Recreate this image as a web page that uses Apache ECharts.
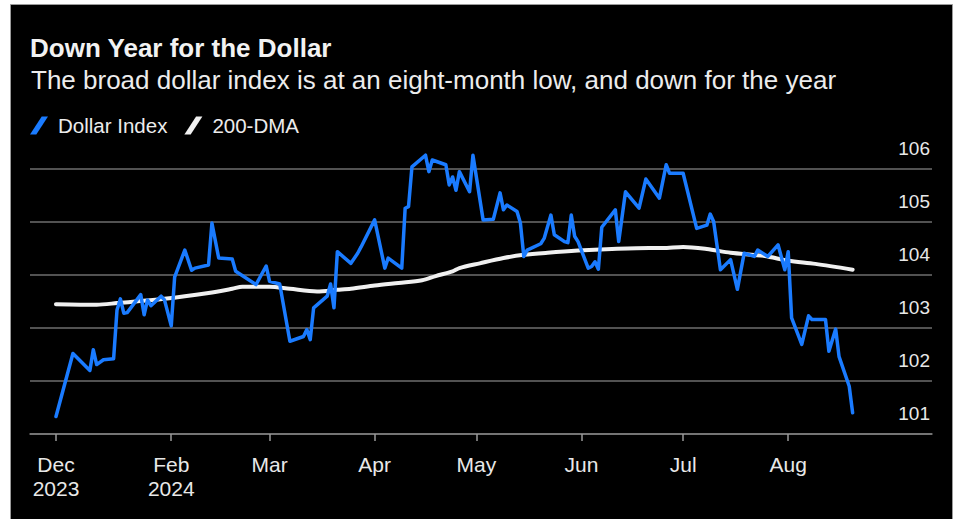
<!DOCTYPE html>
<html>
<head>
<meta charset="utf-8">
<title>Down Year for the Dollar</title>
<script src="https://cdn.jsdelivr.net/npm/echarts@6/dist/echarts.min.js"></script>
<style>
  html, body { margin: 0; padding: 0; background: #ffffff; }
  #chart { width: 959px; height: 519px; }
</style>
</head>
<body>
<div id="chart"></div>
<script>
// Dollar index, daily closes (turning points)
const indexDates = [
  '2023-12-29','2024-01-03','2024-01-08','2024-01-09','2024-01-10','2024-01-12','2024-01-15','2024-01-16',
  '2024-01-17','2024-01-18','2024-01-19','2024-01-23','2024-01-24','2024-01-25','2024-01-26','2024-01-29',
  '2024-01-30','2024-02-01','2024-02-02','2024-02-05','2024-02-07','2024-02-08','2024-02-12','2024-02-13',
  '2024-02-15','2024-02-19','2024-02-20','2024-02-26','2024-02-29','2024-03-01','2024-03-04','2024-03-07',
  '2024-03-11','2024-03-12','2024-03-13','2024-03-14','2024-03-18','2024-03-19','2024-03-20','2024-03-21',
  '2024-03-25','2024-03-27','2024-03-28','2024-04-01','2024-04-04','2024-04-05','2024-04-09','2024-04-10',
  '2024-04-11','2024-04-12','2024-04-16','2024-04-17','2024-04-18','2024-04-22','2024-04-23','2024-04-24',
  '2024-04-25','2024-04-26','2024-04-29','2024-04-30','2024-05-03','2024-05-06','2024-05-08','2024-05-09',
  '2024-05-10','2024-05-13','2024-05-14','2024-05-15','2024-05-16','2024-05-20','2024-05-21','2024-05-23',
  '2024-05-24','2024-05-27','2024-05-28','2024-05-29','2024-05-30','2024-05-31','2024-06-03','2024-06-04',
  '2024-06-05','2024-06-06','2024-06-07','2024-06-11','2024-06-12','2024-06-14','2024-06-18','2024-06-20',
  '2024-06-24','2024-06-26','2024-06-27','2024-07-01','2024-07-05','2024-07-08','2024-07-09','2024-07-10',
  '2024-07-12','2024-07-15','2024-07-17','2024-07-19','2024-07-22','2024-07-23','2024-07-26','2024-07-29',
  '2024-07-31','2024-08-01','2024-08-02','2024-08-05','2024-08-07','2024-08-08','2024-08-12','2024-08-13',
  '2024-08-15','2024-08-16','2024-08-19','2024-08-20'
];
const indexValues = [
  101.33,102.52,102.20,102.59,102.31,102.40,102.42,103.34,
  103.55,103.28,103.29,103.63,103.25,103.53,103.42,103.60,
  103.53,103.04,103.96,104.47,104.09,104.13,104.19,104.98,
  104.32,104.30,104.07,103.82,104.17,103.88,103.83,102.75,
  102.84,102.97,102.78,103.38,103.60,103.83,103.38,104.44,
  104.22,104.41,104.53,105.04,104.13,104.32,104.13,105.26,
  105.29,106.04,106.26,105.95,106.17,106.08,105.70,105.85,
  105.60,105.95,105.57,106.26,105.04,105.05,105.55,105.23,
  105.32,105.20,104.98,104.35,104.47,104.59,104.69,105.13,
  104.76,104.63,104.61,105.13,104.73,104.63,104.13,104.16,
  104.25,104.11,104.90,105.23,104.63,105.57,105.26,105.81,
  105.45,106.08,105.92,105.92,104.88,104.94,105.15,105.01,
  104.10,104.29,103.73,104.41,104.35,104.47,104.35,104.57,
  104.10,104.44,103.19,102.69,103.23,103.16,103.16,102.56,
  102.98,102.46,101.90,101.40
];

// 200-day moving average
const dmaDates = [
  '2023-12-29','2024-01-10','2024-01-16','2024-01-30','2024-02-12','2024-02-19','2024-02-22','2024-03-01',
  '2024-03-07','2024-03-15','2024-03-21','2024-03-25','2024-04-01','2024-04-08','2024-04-15','2024-04-19',
  '2024-04-24','2024-04-26','2024-05-02','2024-05-09','2024-05-15','2024-05-22','2024-05-31','2024-06-10',
  '2024-06-21','2024-06-25','2024-07-01','2024-07-08','2024-07-15','2024-07-25','2024-08-01','2024-08-09',
  '2024-08-20'
];
const dmaValues = [
  103.45,103.44,103.47,103.55,103.66,103.74,103.78,103.78,
  103.74,103.69,103.72,103.74,103.80,103.85,103.90,103.98,
  104.07,104.13,104.22,104.32,104.38,104.42,104.46,104.49,
  104.51,104.51,104.53,104.49,104.42,104.36,104.27,104.21,
  104.10
];

// Month ticks along the bottom axis
const tickDates = ['2023-12-29','2024-02-01','2024-03-01','2024-04-01','2024-05-01','2024-06-01','2024-07-01','2024-08-01'];
const tickLabels = ['Dec\n2023','Feb\n2024','Mar','Apr','May','Jun','Jul','Aug'];

const titleText = 'Down Year for the Dollar';
const subtitleText = 'The broad dollar index is at an eight-month low, and down for the year';
const seriesNames = ['Dollar Index', '200-DMA'];

// Dates become UTC timestamps on a linear axis
const utc = s => Date.parse(s + 'T00:00:00Z');
const pairs = (dates, vals) => dates.map((d, i) => [utc(d), vals[i]]);
const tickValues = tickDates.map(utc);
const labelFor = {};
tickValues.forEach((t, i) => { labelFor[t] = tickLabels[i]; });

const FONT = '"Liberation Sans", Arial, Helvetica, sans-serif';
const BLUE = '#1a7bff';
const WHITE = '#f0f0f0';

const chart = echarts.init(document.getElementById('chart'), null, { renderer: 'svg' });
chart.setOption({
  backgroundColor: '#ffffff',
  animation: false,
  graphic: {
    elements: [{
      type: 'rect', z: -10, silent: true,
      shape: { x: 10.5, y: 4.5, width: 942, height: 520 },
      style: { fill: '#000000', stroke: '#9a9a9a', lineWidth: 1 }
    }]
  },
  title: [
    { text: titleText, left: 30, top: 35, padding: 0,
      textStyle: { color: '#f2f2f2', fontFamily: FONT, fontWeight: 'bold', fontSize: 26 } },
    { text: subtitleText, left: 31, top: 67, padding: 0,
      textStyle: { color: '#ececec', fontFamily: FONT, fontWeight: 'normal', fontSize: 26 } }
  ],
  legend: {
    left: 30, top: 115, padding: 0,
    itemWidth: 18, itemHeight: 19, itemGap: 17,
    icon: 'path://M0,20 L7,20 L20,0 L13,0 Z',
    textStyle: { color: '#ececec', fontFamily: FONT, fontSize: 20.5, padding: [0, 0, 0, 5] },
    data: seriesNames
  },
  grid: { left: 30, right: 27, top: 169, bottom: 85, containLabel: false },
  xAxis: {
    type: 'value',
    min: Date.parse('2023-12-21T08:00:00Z'),
    max: Date.parse('2024-09-12T10:00:00Z'),
    axisLine: { show: true, lineStyle: { color: '#808080', width: 1.5 } },
    axisTick: { show: true, length: 7, customValues: tickValues, lineStyle: { color: '#9a9a9a', width: 1.5 } },
    axisLabel: {
      customValues: tickValues,
      formatter: v => labelFor[v] || '',
      color: '#e8e8e8', fontFamily: FONT, fontSize: 21, lineHeight: 24, margin: 18,
      align: 'center'
    },
    splitLine: { show: false }
  },
  yAxis: {
    type: 'value', position: 'right',
    min: 101, max: 106, interval: 1,
    axisLine: { show: false },
    axisTick: { show: false },
    axisLabel: {
      inside: true, margin: 2, color: '#e8e8e8', fontFamily: FONT, fontSize: 19,
      lineHeight: 19, verticalAlign: 'bottom', align: 'right', padding: [0, 0, 11, 0]
    },
    splitLine: { show: true, lineStyle: { color: '#6e6e6e', width: 1.5 } }
  },
  series: [
    {
      name: seriesNames[0], type: 'line', z: 4, clip: false,
      showSymbol: false, symbol: 'none',
      data: pairs(indexDates, indexValues),
      itemStyle: { color: BLUE },
      lineStyle: { color: BLUE, width: 3.5, join: 'round', cap: 'round' }
    },
    {
      name: seriesNames[1], type: 'line', z: 3, clip: false,
      showSymbol: false, symbol: 'none', smooth: 0.3,
      data: pairs(dmaDates, dmaValues),
      itemStyle: { color: WHITE },
      lineStyle: { color: WHITE, width: 4, cap: 'round' }
    }
  ]
});
</script>
</body>
</html>
